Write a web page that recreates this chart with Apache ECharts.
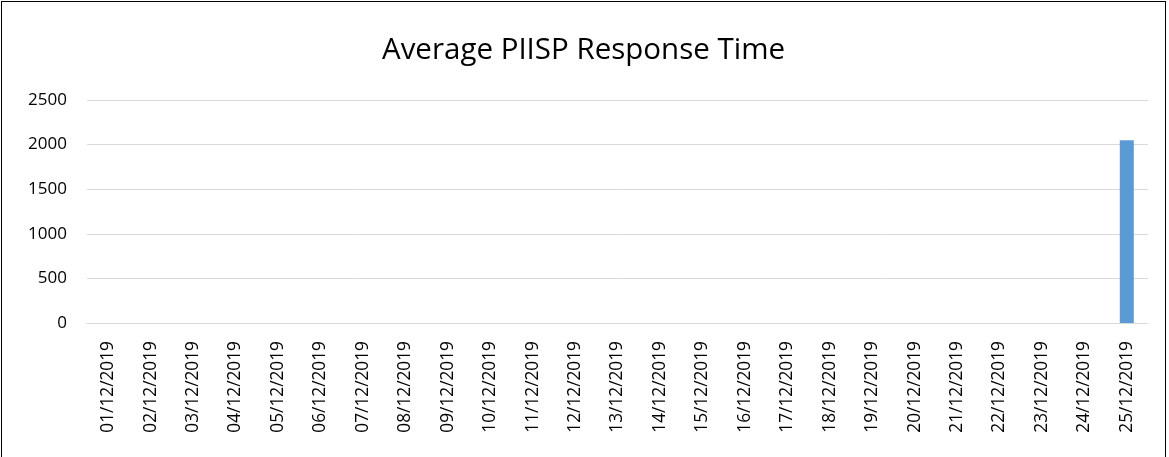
<!DOCTYPE html>
<html>
<head>
<meta charset="utf-8">
<script src="https://cdn.jsdelivr.net/npm/echarts@6/dist/echarts.min.js"></script>
<style>
html,body{margin:0;padding:0;background:#fff;}
#main{position:absolute;left:1px;top:1px;width:1165px;height:460px;border:1px solid #000;box-sizing:border-box;}
</style>
</head>
<body>
<div id="main"></div>
<script>
var days = ['01/12/2019','02/12/2019','03/12/2019','04/12/2019','05/12/2019','06/12/2019','07/12/2019','08/12/2019','09/12/2019','10/12/2019','11/12/2019','12/12/2019','13/12/2019','14/12/2019','15/12/2019','16/12/2019','17/12/2019','18/12/2019','19/12/2019','20/12/2019','21/12/2019','22/12/2019','23/12/2019','24/12/2019','25/12/2019'];
var responseTime = [0,0,0,0,0,0,0,0,0,0,0,0,0,0,0,0,0,0,0,0,0,0,0,0,2050];

var chart = echarts.init(document.getElementById('main'));
var option = {
  animation: false,
  title: {
    text: 'Average PIISP Response Time',
    left: 'center',
    top: 29,
    textStyle: {fontFamily: 'Open Sans', fontSize: 29.5, fontWeight: 'normal', color: '#000'}
  },
  grid: {left: 85, right: 17, top: 98, bottom: 137},
  xAxis: {
    type: 'category',
    data: days,
    axisLine: {lineStyle: {color: '#d9d9d9', width: 1}},
    axisTick: {show: false},
    axisLabel: {rotate: 90, color: '#000', fontFamily: 'Open Sans', fontSize: 17.3, margin: 18, interval: 0}
  },
  yAxis: {
    type: 'value',
    min: 0,
    max: 2500,
    interval: 500,
    axisLine: {show: false},
    axisTick: {show: false},
    splitLine: {lineStyle: {color: '#d9d9d9', width: 1}},
    axisLabel: {color: '#000', fontFamily: 'Open Sans', fontSize: 17, margin: 20,
      formatter: function (v) { return String(v); }}
  },
  series: [{
    type: 'bar',
    data: responseTime,
    barWidth: '33%',
    itemStyle: {color: '#5b9bd5'}
  }]
};
chart.setOption(option);
</script>
</body>
</html>
